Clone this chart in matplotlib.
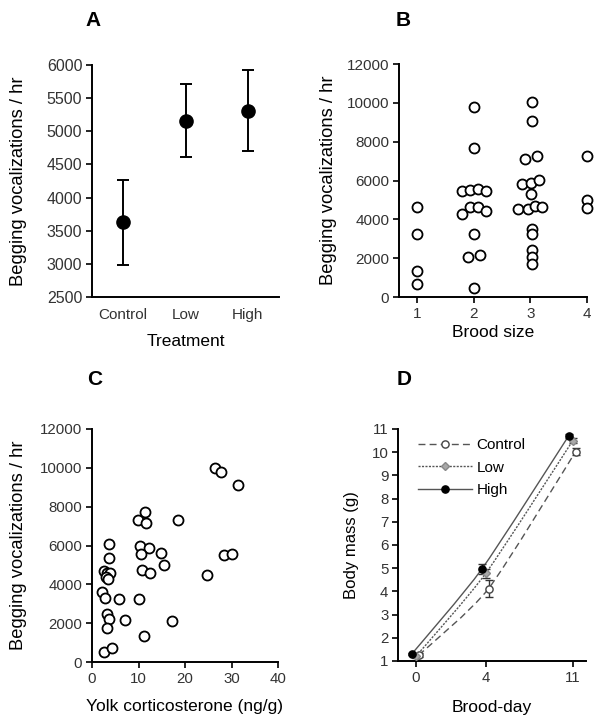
import numpy as np
import matplotlib
matplotlib.use("Agg")
import matplotlib.pyplot as plt
from matplotlib.transforms import ScaledTranslation
from matplotlib.path import Path
from matplotlib.patches import PathPatch
from matplotlib.lines import Line2D

plt.rcParams['font.family'] = ['Liberation Sans', 'DejaVu Sans']

# ---------------- data ----------------
# Panel A
treatments = ["Control", "Low", "High"]
treat_mean = [3630, 5160, 5310]
treat_err = [640, 550, 610]

# Panel B
brood_size = [1, 1, 1, 1,
              2, 2, 2, 2, 2, 2, 2, 2, 2, 2, 2, 2, 2, 2,
              3, 3, 3, 3, 3, 3, 3, 3, 3, 3, 3, 3, 3, 3, 3, 3, 3,
              4, 4, 4]
brood_jitter = [0, 0, 0, 0,
                0.01, 0.01, -0.20, -0.06, 0.07, 0.21, -0.20, -0.07, 0.07, 0.21, 0.01, -0.10, 0.11, 0.01,
                0.02, 0.02, -0.10, 0.11, -0.14, 0.01, 0.16, 0.01, -0.21, -0.05, 0.08, 0.21, 0.02, 0.02, 0.02, 0.02, 0.02,
                0, 0, 0]
brood_beg = [4650, 3240, 1340, 650,
             9780, 7690, 5470, 5510, 5580, 5470, 4300, 4610, 4650, 4420, 3220, 2070, 2150, 480,
             10020, 9070, 7130, 7260, 5800, 5850, 6020, 5300, 4510, 4510, 4680, 4650, 3480, 3220, 2410, 2070, 1720,
             7260, 5010, 4560]

# Panel C
yolk_cort = [26.4, 27.7, 31.4, 11.4, 9.9, 11.6, 18.6, 3.6, 10.35, 12.3,
             10.5, 14.8, 15.4, 28.4, 30.0, 3.6, 2.5, 3.2, 3.9, 3.07,
             3.35, 10.7, 12.5, 24.8, 2.1, 2.85, 5.85, 10.2, 3.2, 3.7,
             3.2, 7.1, 17.3, 11.2, 2.65, 4.3]
yolk_beg = [10000, 9760, 9100, 7700, 7330, 7170, 7330, 6100, 5980, 5870,
            5550, 5600, 5020, 5500, 5540, 5360, 4700, 4600, 4600, 4400,
            4300, 4750, 4590, 4480, 3580, 3300, 3270, 3270, 2460, 2240,
            1770, 2150, 2100, 1360, 520, 740]

# Panel D
brood_day = [0, 4, 11]
mass_control = [1.25, 4.12, 10.02]
mass_control_err = [0.08, 0.35, 0.15]
mass_low = [1.2, 4.78, 10.5]
mass_low_err = [0.06, 0.2, 0.12]
mass_high = [1.3, 4.95, 10.7]
mass_high_err = [0.05, 0.22, 0.1]

# ---------------- figure ----------------
W, H = 602, 726
fig = plt.figure(figsize=(W / 100, H / 100), dpi=100)

def ax_at(l, r, t, b):
    return fig.add_axes([l / W, 1 - b / H, (r - l) / W, (b - t) / H])

tick_col = '#333333'
YLFS = 13.2
XLFS = 12.5

def style(ax, tfs):
    for s in ['top', 'right']:
        ax.spines[s].set_visible(False)
    for s in ['left', 'bottom']:
        ax.spines[s].set_linewidth(1.4)
    ax.tick_params(direction='out', length=4, width=1.2, labelsize=tfs,
                   labelcolor=tick_col, pad=3)

# Panel A
axA = ax_at(92, 279, 65, 297)
style(axA, 11.5)
xa = np.arange(len(treatments))
axA.errorbar(xa, treat_mean, yerr=treat_err, fmt='o', color='black',
             markersize=9.5, capsize=4.5, elinewidth=1.4, capthick=1.4, clip_on=False)
axA.set_xlim(-0.5, 2.5)
axA.set_ylim(2500, 6000)
axA.set_yticks(np.arange(2500, 6001, 500))
axA.set_xticks(xa)
axA.set_xticklabels(treatments)
axA.tick_params(axis='x', length=0, pad=8, labelsize=11)
axA.set_ylabel("Begging vocalizations / hr", fontsize=YLFS)
axA.set_xlabel("Treatment", fontsize=XLFS)
axA.yaxis.set_label_coords(-0.35, 0.5)
axA.xaxis.set_label_coords(0.5, -0.158)

# Panel B
axB = ax_at(399, 587, 64, 297)
style(axB, 11)
bx = np.array(brood_size) + np.array(brood_jitter)
axB.scatter(bx, brood_beg, s=52, facecolors='white', edgecolors='black',
            linewidths=1.3, clip_on=False, zorder=3)
axB.set_xlim(0.68, 4.0)
axB.set_ylim(0, 12000)
axB.set_yticks(np.arange(0, 12001, 2000))
axB.set_xticks([1, 2, 3, 4])
axB.set_ylabel("Begging vocalizations / hr", fontsize=YLFS)
axB.set_xlabel("Brood size", fontsize=XLFS)
axB.yaxis.set_label_coords(-0.33, 0.5)
axB.xaxis.set_label_coords(0.5, -0.122)

# Panel C
axC = ax_at(92, 278, 429, 662)
style(axC, 10.8)
axC.scatter(yolk_cort, yolk_beg, s=52, facecolors='white', edgecolors='black',
            linewidths=1.3, clip_on=False, zorder=3)
axC.set_xlim(0, 40)
axC.set_ylim(0, 12000)
axC.set_yticks(np.arange(0, 12001, 2000))
axC.set_xticks(np.arange(0, 41, 10))
axC.set_ylabel("Begging vocalizations / hr", fontsize=YLFS)
axC.set_xlabel("Yolk corticosterone (ng/g)", fontsize=XLFS)
axC.yaxis.set_label_coords(-0.35, 0.5)
axC.xaxis.set_label_coords(0.5, -0.158)

# Panel D
axD = ax_at(398, 586, 429, 661)
style(axD, 10.8)
fwd = lambda x: np.sign(x) * np.abs(x) ** 0.8
inv = lambda y: np.sign(y) * np.abs(y) ** 1.25
axD.set_xscale('function', functions=(fwd, inv))
line_col = '#555555'
series = [
    ("Control", mass_control, mass_control_err, (0, (5, 3)), 'o', 'white', '#444444', 2.0),
    ("Low", mass_low, mass_low_err, (0, (1.5, 1)), 'D', '#a8a8a8', '#888888', 0.0),
    ("High", mass_high, mass_high_err, '-', 'o', 'black', 'black', -3.0),
]

def smooth_path(xs, ys, k=9.0):
    # smoothed line through the points (Bezier, spreadsheet-like),
    # control points computed in the axis' scaled space
    P = np.column_stack([fwd(np.asarray(xs, float)), np.asarray(ys, float)])
    n = len(P)
    verts = [P[0]]
    codes = [Path.MOVETO]
    for i in range(n - 1):
        p_prev = P[i - 1] if i > 0 else P[i]
        p_next = P[i + 2] if i + 2 < n else P[i + 1]
        c1 = P[i] + (P[i + 1] - p_prev) / k
        c2 = P[i + 1] - (p_next - P[i]) / k
        verts += [c1, c2, P[i + 1]]
        codes += [Path.CURVE4] * 3
    verts = np.array(verts)
    verts[:, 0] = inv(verts[:, 0])
    return Path(verts, codes)

handles = []
for name, m, e, ls, mk, fc, ec, dx in series:
    tr = axD.transData + ScaledTranslation(dx / 72, 0, fig.dpi_scale_trans)
    ms = 5.2 if mk == 'o' else 4.2
    patch = PathPatch(smooth_path(brood_day, m), facecolor='none', edgecolor=line_col,
                      linestyle=ls, linewidth=1.0, transform=tr, zorder=2)
    axD.add_patch(patch)
    eb = axD.errorbar(brood_day, m, yerr=e, linestyle='none',
                      marker=mk, markersize=ms, markerfacecolor=fc,
                      markeredgecolor=ec, markeredgewidth=1.0, ecolor='#333333',
                      elinewidth=1.0, capsize=3, capthick=1.0, clip_on=False, zorder=3)
    eb.lines[0].set_transform(tr)
    for cap in eb.lines[1]:
        cap.set_transform(tr)
    for coll in eb.lines[2]:
        coll.set_transform(tr)
    handles.append(Line2D([], [], color=line_col, linestyle=ls, linewidth=1.0,
                          marker=mk, markersize=ms, markerfacecolor=fc,
                          markeredgecolor=ec, label=name))
axD.set_xlim(-0.73, 12.17)
axD.set_ylim(1, 11)
axD.set_yticks(np.arange(1, 12, 1))
axD.set_xticks(brood_day)
axD.set_xticklabels([str(d) for d in brood_day])
axD.xaxis.set_minor_locator(matplotlib.ticker.NullLocator())
axD.set_ylabel("Body mass (g)", fontsize=12)
axD.set_xlabel("Brood-day", fontsize=XLFS)
axD.yaxis.set_label_coords(-0.21, 0.5)
axD.xaxis.set_label_coords(0.5, -0.168)
leg = axD.legend(handles=handles, loc='upper left', bbox_to_anchor=(0.06, 1.0),
                 frameon=False, fontsize=11, handlelength=3.5, handletextpad=0.3,
                 labelspacing=0.55, borderaxespad=0.2)

# Panel letters
for x, y, t in [(93, 20, "A"), (403, 20, "B"), (95, 380, "C"), (404, 380, "D")]:
    fig.text(x / W, 1 - y / H, t, fontsize=15, fontweight='bold', ha='center', va='center')

fig.savefig("out.png", dpi=100)
